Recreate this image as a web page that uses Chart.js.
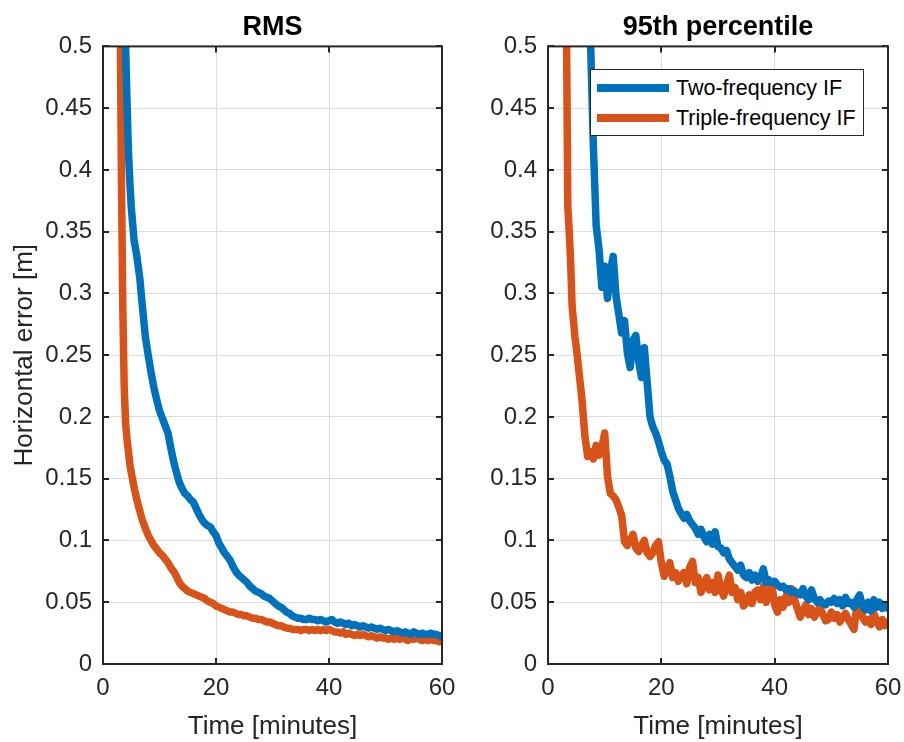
<!DOCTYPE html>
<html>
<head>
<meta charset="utf-8">
<script src="https://cdn.jsdelivr.net/npm/chart.js@4.4.1/dist/chart.umd.min.js"></script>
<style>
  html, body { margin: 0; padding: 0; background: #fff; overflow: hidden; }
  #wrap { position: relative; width: 904px; height: 742px; overflow: hidden; }
  #wrap canvas { position: absolute; left: 0; top: 0; }
  #legend {
    position: absolute; left: 590px; top: 69px; width: 272px; height: 65px;
    border: 1px solid #262626; background: #fff;
    font: 21.5px "Liberation Sans", Arial, sans-serif; color: #000;
  }
  #legend .row { position: absolute; left: 0; height: 30px; display: flex; align-items: center; white-space: nowrap; }
  #legend .swatch { display: inline-block; width: 72px; height: 8px; margin-left: 6px; margin-right: 7px; }
</style>
</head>
<body>
<div id="wrap">
  <canvas id="rmsChart" width="940" height="742"></canvas>
  <canvas id="p95Chart" width="940" height="742"></canvas>
  <div id="legend"></div>
</div>
<script>
// 🔹 DATA
const timeMin = [
  2, 2.5, 3, 3.25, 3.5, 3.75, 4, 4.25, 4.5, 4.75, 5,
  5.5, 6, 6.5, 7, 7.5, 8, 8.5, 9, 9.5, 10,
  10.5, 11, 11.5, 12, 12.5, 13, 13.5, 14, 14.5, 15,
  15.5, 16, 16.5, 17, 17.5, 18, 18.5, 19, 19.5, 20,
  20.5, 21, 21.5, 22, 22.5, 23, 23.5, 24, 24.5, 25,
  25.5, 26, 26.5, 27, 27.5, 28, 28.5, 29, 29.5, 30,
  30.5, 31, 31.5, 32, 32.5, 33, 33.5, 34, 34.5, 35,
  35.5, 36, 36.5, 37, 37.5, 38, 38.5, 39, 39.5, 40,
  40.5, 41, 41.5, 42, 42.5, 43, 43.5, 44, 44.5, 45,
  45.5, 46, 46.5, 47, 47.5, 48, 48.5, 49, 49.5, 50,
  50.5, 51, 51.5, 52, 52.5, 53, 53.5, 54, 54.5, 55,
  55.5, 56, 56.5, 57, 57.5, 58, 58.5, 59, 59.5, 60
];

// RMS, two-frequency IF
const twoRms = [
  null, null, null, null, 0.62, 0.56, 0.50, 0.455, 0.415, 0.39, 0.37,
  0.343, 0.33, 0.313, 0.288, 0.265, 0.25, 0.236, 0.224, 0.214, 0.205,
  0.199, 0.193, 0.187, 0.175, 0.164, 0.155, 0.147, 0.142, 0.138, 0.136,
  0.133, 0.131, 0.126, 0.121, 0.117, 0.114, 0.112, 0.111, 0.107, 0.104,
  0.098, 0.094, 0.09, 0.087, 0.084, 0.079, 0.075, 0.072, 0.070, 0.068,
  0.066, 0.063, 0.061, 0.059, 0.058, 0.057, 0.055, 0.054, 0.053, 0.051,
  0.049, 0.047, 0.046, 0.044, 0.042, 0.041, 0.039, 0.038, 0.037, 0.037,
  0.036, 0.036, 0.037, 0.036, 0.036, 0.035, 0.036, 0.035, 0.034, 0.035,
  0.036, 0.034, 0.033, 0.034, 0.033, 0.032, 0.033, 0.031, 0.032, 0.031,
  0.030, 0.031, 0.030, 0.029, 0.030, 0.029, 0.028, 0.029, 0.028, 0.027,
  0.028, 0.027, 0.026, 0.027, 0.026, 0.025, 0.026, 0.025, 0.024, 0.026,
  0.025, 0.024, 0.025, 0.024, 0.024, 0.025, 0.024, 0.024, 0.023, 0.022
];

// RMS, triple-frequency IF
const tripleRms = [
  null, 0.9, 0.56, 0.40, 0.29, 0.225, 0.195, 0.182, 0.172, 0.162, 0.155,
  0.143, 0.133, 0.124, 0.116, 0.11, 0.104, 0.1, 0.096, 0.093, 0.09,
  0.088, 0.085, 0.082, 0.078, 0.075, 0.071, 0.066, 0.063, 0.061, 0.059,
  0.058, 0.057, 0.056, 0.055, 0.054, 0.053, 0.051, 0.050, 0.049, 0.047,
  0.046, 0.045, 0.044, 0.043, 0.042, 0.042, 0.041, 0.040, 0.040, 0.039,
  0.039, 0.038, 0.037, 0.037, 0.036, 0.036, 0.035, 0.034, 0.034, 0.033,
  0.032, 0.031, 0.031, 0.030, 0.029, 0.029, 0.028, 0.028, 0.028, 0.027,
  0.028, 0.028, 0.027, 0.028, 0.027, 0.028, 0.027, 0.028, 0.027, 0.028,
  0.027, 0.026, 0.026, 0.025, 0.026, 0.024, 0.025, 0.024, 0.023, 0.024,
  0.023, 0.024, 0.023, 0.022, 0.023, 0.022, 0.021, 0.022, 0.021, 0.021,
  0.020, 0.021, 0.020, 0.021, 0.020, 0.021, 0.020, 0.019, 0.021, 0.020,
  0.022, 0.020, 0.019, 0.020, 0.019, 0.020, 0.019, 0.019, 0.018, 0.019
];

// 95th percentile, two-frequency IF
const twoP95 = [
  null, null, null, null, null, null, null, null, null, null, null,
  null, null, null, 0.62, 0.505, 0.42, 0.355, 0.336, 0.305, 0.322,
  0.296, 0.318, 0.33, 0.298, 0.283, 0.268, 0.278, 0.252, 0.24, 0.262,
  0.266, 0.245, 0.232, 0.256, 0.228, 0.2, 0.192, 0.187, 0.18, 0.172,
  0.165, 0.162, 0.152, 0.14, 0.133, 0.126, 0.122, 0.118, 0.121, 0.116,
  0.113, 0.11, 0.105, 0.109, 0.103, 0.099, 0.105, 0.097, 0.107, 0.095,
  0.094, 0.09, 0.092, 0.085, 0.082, 0.079, 0.076, 0.08, 0.072, 0.07,
  0.074, 0.068, 0.072, 0.067, 0.07, 0.077, 0.066, 0.068, 0.066, 0.067,
  0.064, 0.062, 0.063, 0.06, 0.061, 0.058, 0.059, 0.057, 0.056, 0.061,
  0.055, 0.052, 0.06, 0.053, 0.05, 0.052, 0.049, 0.048, 0.051, 0.05,
  0.053, 0.049, 0.052, 0.047, 0.054, 0.049, 0.05, 0.046, 0.052, 0.056,
  0.047, 0.044, 0.05, 0.043, 0.052, 0.046, 0.05, 0.045, 0.048, 0.045
];

// 95th percentile, triple-frequency IF
const tripleP95 = [
  null, null, 0.7, 0.52, 0.37, 0.35, 0.325, 0.29, 0.278, 0.265, 0.256,
  0.235, 0.214, 0.185, 0.168, 0.172, 0.166, 0.177, 0.169, 0.175, 0.187,
  0.152, 0.138, 0.136, 0.133, 0.127, 0.12, 0.099, 0.096, 0.1, 0.105,
  0.094, 0.091, 0.096, 0.1, 0.09, 0.087, 0.09, 0.096, 0.099, 0.082,
  0.071, 0.077, 0.082, 0.07, 0.074, 0.067, 0.072, 0.074, 0.065, 0.078,
  0.083, 0.066, 0.07, 0.058, 0.064, 0.07, 0.06, 0.066, 0.058, 0.072,
  0.061, 0.055, 0.064, 0.072, 0.058, 0.062, 0.052, 0.058, 0.047, 0.05,
  0.056, 0.049, 0.058, 0.06, 0.052, 0.063, 0.05, 0.057, 0.064, 0.048,
  0.042, 0.052, 0.046, 0.055, 0.05, 0.061, 0.052, 0.045, 0.038, 0.043,
  0.048, 0.04, 0.045, 0.038, 0.042, 0.046, 0.04, 0.035, 0.036, 0.042,
  0.037, 0.04, 0.034, 0.038, 0.041, 0.036, 0.032, 0.028, 0.047, 0.055,
  0.038, 0.034, 0.036, 0.032, 0.041, 0.035, 0.03, 0.036, 0.031, 0.034
];

const seriesNames = ["Two-frequency IF", "Triple-frequency IF"];
const seriesColors = ["#0072BD", "#D95319"];

const xTicks = [0, 20, 40, 60];
const yTicks = [0, 0.05, 0.1, 0.15, 0.2, 0.25, 0.3, 0.35, 0.4, 0.45, 0.5];
const yTickLabels = ["0", "0.05", "0.1", "0.15", "0.2", "0.25", "0.3", "0.35", "0.4", "0.45", "0.5"];

// 🔹 STYLE
const FONT = '"Liberation Sans", Arial, Helvetica, sans-serif';
const TEXT = "#262626";
const CANVAS_W = 940; // wider than the window so tick labels never squeeze the plot box

function points(values) {
  return timeMin.map((t, i) => ({ x: t, y: values[i] }));
}

// 🔹 MATLAB-style box with inward ticks
const boxPlugin = {
  id: "matlabBox",
  afterDatasetsDraw(chart) {
    const { ctx, chartArea: a, scales: { x, y } } = chart;
    ctx.save();
    ctx.strokeStyle = TEXT;
    ctx.lineWidth = 2;
    ctx.beginPath();
    x.ticks.forEach(t => {
      const px = Math.round(x.getPixelForValue(t.value));
      ctx.moveTo(px, a.bottom); ctx.lineTo(px, a.bottom - 6);
      ctx.moveTo(px, a.top); ctx.lineTo(px, a.top + 6);
    });
    y.ticks.forEach(t => {
      const py = Math.round(y.getPixelForValue(t.value));
      ctx.moveTo(a.left, py); ctx.lineTo(a.left + 6, py);
      ctx.moveTo(a.right, py); ctx.lineTo(a.right - 6, py);
    });
    ctx.stroke();
    ctx.strokeRect(a.left, a.top, a.right - a.left, a.bottom - a.top);
    ctx.restore();
  }
};

function makeChart(canvasId, title, twoVals, tripleVals, opts) {
  return new Chart(document.getElementById(canvasId), {
    type: "line",
    data: {
      datasets: [
        { label: seriesNames[0], data: points(twoVals), borderColor: seriesColors[0] },
        { label: seriesNames[1], data: points(tripleVals), borderColor: seriesColors[1] }
      ].map(d => Object.assign(d, {
        borderWidth: 7.5,
        pointRadius: 0,
        tension: 0,
        fill: false,
        clip: 0,
        borderJoinStyle: "round",
        borderCapStyle: "round",
        spanGaps: false
      }))
    },
    options: {
      responsive: false,
      animation: false,
      events: [],
      layout: { padding: opts.padding },
      plugins: {
        legend: { display: false },
        tooltip: { enabled: false },
        title: {
          display: true,
          text: title,
          fullSize: false,
          color: "#000",
          font: { family: FONT, size: 27, weight: "bold" },
          padding: { top: 11, bottom: 3 }
        }
      },
      scales: {
        x: {
          type: "linear",
          min: 0, max: 60,
          afterBuildTicks: s => { s.ticks = xTicks.map(v => ({ value: v })); },
          afterFit: s => { s.height = 78; },
          ticks: { color: TEXT, font: { family: FONT, size: 24 }, padding: 10, maxRotation: 0, autoSkip: false },
          grid: { color: "#dcdcdc", lineWidth: 1, drawTicks: false },
          border: { display: false },
          title: {
            display: true, text: "Time [minutes]", color: TEXT,
            font: { family: FONT, size: 26 }, padding: { top: 0, bottom: 0 }
          }
        },
        y: {
          type: "linear",
          min: 0, max: 0.5,
          afterBuildTicks: s => { s.ticks = yTicks.map(v => ({ value: v })); },
          afterFit: s => { s.width = opts.yWidth; },
          ticks: {
            color: TEXT, font: { family: FONT, size: 24 }, padding: 11, autoSkip: false,
            callback: (v, i) => yTickLabels[i]
          },
          grid: { color: "#dcdcdc", lineWidth: 1, drawTicks: false },
          border: { display: false },
          title: {
            display: opts.yTitle, text: "Horizontal error [m]", color: TEXT,
            font: { family: FONT, size: 26 }, padding: { top: 9, bottom: 0 }
          }
        }
      }
    },
    plugins: [boxPlugin]
  });
}

// 🔹 CHARTS
makeChart("rmsChart", "RMS", twoRms, tripleRms,
  { padding: { left: 0, right: CANVAS_W - 442, top: 0, bottom: 0 }, yWidth: 103, yTitle: true });

const p95 = makeChart("p95Chart", "95th percentile", twoP95, tripleP95,
  { padding: { left: 452, right: CANVAS_W - 888, top: 0, bottom: 0 }, yWidth: 96, yTitle: false });

// 🔹 LEGEND (inside right axes)
const legend = document.getElementById("legend");
p95.data.datasets.forEach((d, i) => {
  const row = document.createElement("div");
  row.className = "row";
  row.style.top = (3 + i * 30) + "px";
  row.innerHTML = `<span class="swatch" style="background:${d.borderColor}"></span><span>${d.label}</span>`;
  legend.appendChild(row);
});
</script>
</body>
</html>
